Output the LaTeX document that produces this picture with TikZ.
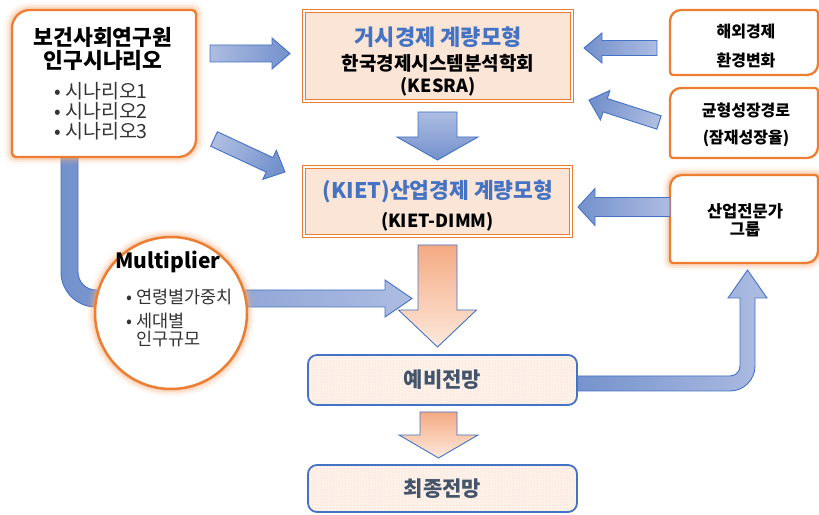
\documentclass[tikz,border=0pt]{standalone}
\usepackage{fontspec}
\setmainfont{Noto Sans CJK KR}
\usetikzlibrary{calc,patterns}
\definecolor{borange}{HTML}{ED7D31}
\definecolor{peach}{HTML}{FBE5D6}
\definecolor{glowc}{HTML}{F4B183}
\definecolor{bline}{HTML}{4472C4}
\definecolor{bdark}{HTML}{7391CC}
\definecolor{blight}{HTML}{ADBCE1}
\definecolor{odark}{HTML}{F4AA82}
\definecolor{olight}{HTML}{FDE9DD}
\definecolor{tblue}{HTML}{4472C4}
\definecolor{tslate}{HTML}{44546A}
\definecolor{tgray}{HTML}{333333}
\definecolor{dotfill}{HTML}{FEF3EC}

\newcommand{\fs}[1]{\fontsize{#1}{#1}\selectfont}

% #1 style, #2 tail coord, #3 tip coord, #4 shaft half width, #5 head half width, #6 head length
\newcommand{\blockarrow}[6]{%
  \coordinate (#3-hb) at ($(#3)!#6!(#2)$);
  \path[#1] ($(#2)!#4!90:(#3)$) -- ($(#3-hb)!#4!90:(#3)$) -- ($(#3-hb)!#5!90:(#3)$)
    -- (#3) -- ($(#3-hb)!#5!-90:(#3)$) -- ($(#3-hb)!#4!-90:(#3)$)
    -- ($(#2)!#4!-90:(#3)$) -- cycle;
}
% round diagonal corner rectangle: #1 style, #2 x1, #3 y bottom, #4 x2, #5 y top, #6 big radius, #7 small radius
\newcommand{\diagshape}[7]{%
  \path[#1] ({#2+#6},#5) -- ({#4-#7},#5) arc[start angle=90,end angle=0,radius=#7pt]
    -- (#4,{#3+#6}) arc[start angle=0,end angle=-90,radius=#6pt]
    -- ({#2+#7},#3) arc[start angle=270,end angle=180,radius=#7pt]
    -- (#2,{#5-#6}) arc[start angle=180,end angle=90,radius=#6pt] -- cycle;
}

\tikzset{
  glow/.style={preaction={draw=glowc,line width=15pt,opacity=.12},
               preaction={draw=glowc,line width=10pt,opacity=.18},
               preaction={draw=glowc,line width=6pt,opacity=.3}},
  obox/.style={draw=borange,line width=2.3pt,fill=white},
  dbox/.style={draw=borange,double=white,double distance=1.6pt,line width=1.2pt,
               fill=peach,inner sep=0pt},
  pbox/.style={draw=bline,line width=1.8pt,rounded corners=9pt,preaction={fill=dotfill},
               pattern=dots,pattern color=glowc!80,inner sep=0pt,
               font=\fs{21}\bfseries,text=tslate},
  barrow/.style={draw=bline,line width=0.9pt},
  oarrow/.style={draw=bline,line width=0.9pt,top color=odark,bottom color=olight},
  txt/.style={inner sep=0pt,align=center},
}

\begin{document}
\begin{tikzpicture}[x=1pt,y=1pt]
\useasboundingbox (0,0) rectangle (819,514);

% bent arrows
\path[barrow,left color=bdark,right color=blight]
  (61,370) -- (61,242) arc[start angle=180,end angle=270,radius=35pt]
  -- (385,207) -- (385,197) -- (412,215.5) -- (385,234) -- (385,224)
  -- (96,224) arc[start angle=270,end angle=180,radius=18pt] -- (78,370) -- cycle;
\path[barrow,left color=bdark,right color=blight]
  (570,123) -- (730,123) arc[start angle=-90,end angle=0,radius=25pt]
  -- (755,216) -- (767,216) -- (747.5,244) -- (728,216) -- (740,216)
  -- (740,148) arc[start angle=0,end angle=-90,radius=10pt] -- (570,138) -- cycle;

% boxes
\diagshape{glow,obox}{12}{357}{196}{504}{18}{4}
\diagshape{obox}{670}{439}{818}{504}{11}{3}
\diagshape{obox}{670}{356}{818}{426}{11}{3}
\diagshape{glow,obox}{670}{251}{818}{339}{12}{3}
\node[circle,glow,draw=borange,line width=2.5pt,fill=white,minimum size=152pt,inner sep=0pt] (mult) at (171,201) {};
\node[dbox,minimum width=268pt,minimum height=90pt] (macro) at (438,458) {};
\node[dbox,minimum width=267pt,minimum height=69pt] (kiet) at (437.5,312.5) {};
\node[pbox,minimum width=269pt,minimum height=50pt] (pre) at (442.5,134) {예비전망};
\node[pbox,minimum width=269pt,minimum height=47pt] (fin) at (442.5,25.5) {최종전망};

% straight block arrows
\coordinate (a1s) at (210,460.5); \coordinate (a1e) at (290,460.5);
\blockarrow{barrow,left color=blight,right color=bdark}{a1s}{a1e}{8.5pt}{15.5pt}{18pt}
\coordinate (a2s) at (214,375); \coordinate (a2e) at (285,342);
\blockarrow{barrow,top color=bdark,bottom color=blight,shading angle=-115}{a2s}{a2e}{8pt}{16pt}{17pt}
\coordinate (a3s) at (437.5,402); \coordinate (a3e) at (437.5,354);
\blockarrow{barrow,top color=blight,bottom color=bdark}{a3s}{a3e}{19.5pt}{40.5pt}{23pt}
\coordinate (a5s) at (657,466); \coordinate (a5e) at (584,466);
\blockarrow{barrow,left color=bdark,right color=blight}{a5s}{a5e}{7.5pt}{15pt}{18pt}
\coordinate (a6s) at (659,391.5); \coordinate (a6e) at (589,414);
\blockarrow{barrow,top color=bdark,bottom color=blight,shading angle=72}{a6s}{a6e}{7pt}{15.5pt}{17pt}
\coordinate (a7s) at (670,307); \coordinate (a7e) at (578,307);
\blockarrow{barrow,left color=bdark,right color=blight}{a7s}{a7e}{9.5pt}{18.5pt}{17pt}
\coordinate (a4s) at (437.5,269); \coordinate (a4e) at (437.5,167);
\blockarrow{oarrow}{a4s}{a4e}{19.5pt}{39pt}{37pt}
\coordinate (a8s) at (438.5,102); \coordinate (a8e) at (438.5,56);
\blockarrow{oarrow}{a8s}{a8e}{18.5pt}{39.5pt}{23pt}

% texts
\node[txt,font=\fs{21.5}\bfseries] (popt) at (103,465) {보건사회연구원\\[1pt]인구시나리오};
\node[txt,align=left,anchor=west,font=\fs{19.5},text=tgray] (popb) at (54,403) {• 시나리오1\\[0.5pt]• 시나리오2\\[0.5pt]• 시나리오3};
\node[txt,font=\fs{22}\bfseries,text=tblue] (macrot) at (438,477) {거시경제 계량모형};
\node[txt,font=\fs{19}\bfseries] (kesrat) at (438,451) {한국경제시스템분석학회};
\node[txt,font=\fs{18}\bfseries] (kesra) at (438,427) {(KESRA)};
\node[txt,font=\fs{16}\bfseries] (ovs1) at (746,482) {해외경제};
\node[txt,font=\fs{16}\bfseries] (ovs2) at (746,454) {환경변화};
\node[txt,font=\fs{16}\bfseries] (bal1) at (746,404) {균형성장경로};
\node[txt,font=\fs{16}\bfseries] (bal2) at (746,376) {(잠재성장율)};
\node[txt,font=\fs{21.5}\bfseries,text=tblue] (kiett) at (438,322) {(KIET)산업경제 계량모형};
\node[txt,font=\fs{18}\bfseries] (kietd) at (437.5,292) {(KIET-DIMM)};
\node[txt,font=\fs{16.5}\bfseries] (expt) at (745,294) {산업전문가\\[2pt]그룹};
\node[txt,font=\fs{21}\bfseries] (multt) at (168,252) {Multiplier};
\node[txt,align=left,anchor=west,font=\fs{17.5},text=tgray] (multb1) at (126,217) {• 연령별가중치};
\node[txt,align=left,anchor=north west,font=\fs{17.5},text=tgray] (multb2) at (126,201) {• 세대별\\[0pt]\hphantom{• }인구규모};
\end{tikzpicture}
\end{document}
